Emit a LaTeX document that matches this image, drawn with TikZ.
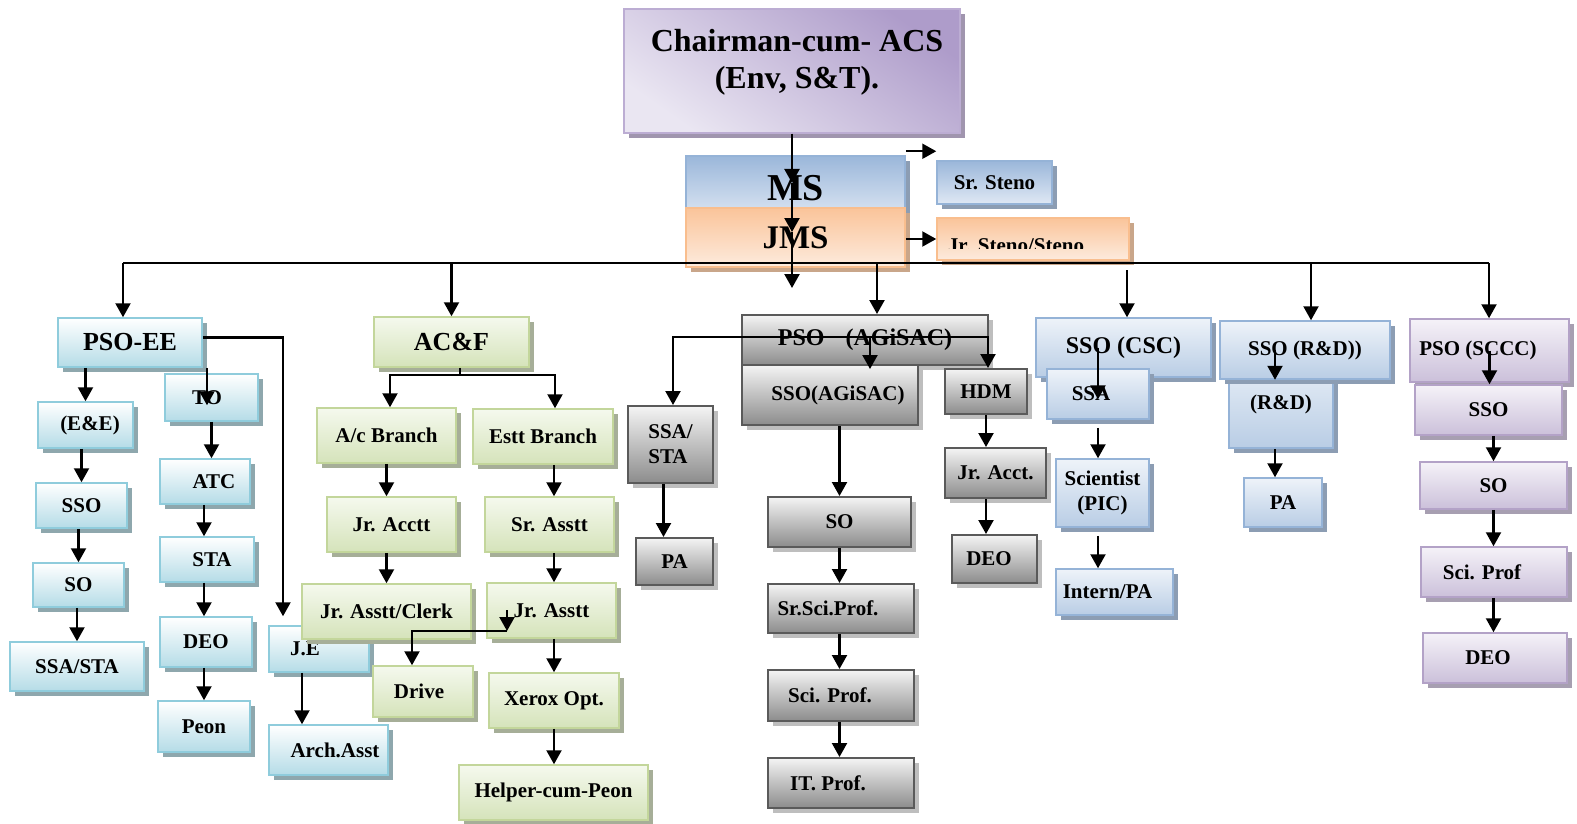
\documentclass[tikz,border=0pt]{standalone}
\usepackage{fontspec}
\setmainfont{Liberation Serif}
\usetikzlibrary{arrows.meta,shadows}

\definecolor{cyanE}{HTML}{8FCCDC}
\definecolor{cyanB}{HTML}{B5DCE7}
\definecolor{cyanS}{HTML}{8EA7AD}
\definecolor{grnE}{HTML}{C3D69B}
\definecolor{grnT}{HTML}{F5F9EE}
\definecolor{grnB}{HTML}{D5E3BA}
\definecolor{grnS}{HTML}{A6AE98}
\definecolor{gryE}{HTML}{5A5A5A}
\definecolor{gryT}{HTML}{F4F4F4}
\definecolor{gryB}{HTML}{8C8C8C}
\definecolor{gryS}{HTML}{BEBEBE}
\definecolor{bluE}{HTML}{95B3D7}
\definecolor{bluT}{HTML}{EEF3F9}
\definecolor{bluB}{HTML}{B9CDE5}
\definecolor{bluS}{HTML}{8C9DB3}
\definecolor{purE}{HTML}{B3A2C7}
\definecolor{purT}{HTML}{F5F2F8}
\definecolor{purB}{HTML}{CBC0DA}
\definecolor{purS}{HTML}{A79FB1}
\definecolor{chE}{HTML}{BCADD3}
\definecolor{chD}{HTML}{AE9CCA}
\definecolor{chL}{HTML}{EAE6F2}
\definecolor{chS}{HTML}{A095AE}
\definecolor{orE}{HTML}{F9BE8E}
\definecolor{orT}{HTML}{FAC49A}
\definecolor{orB}{HTML}{FDEBDD}
\definecolor{orS}{HTML}{C9A68A}
\definecolor{msT}{HTML}{9BB7DA}
\definecolor{msB}{HTML}{DFE8F4}

\newcommand{\fsz}[2]{\bfseries\fontsize{#1}{#2}\selectfont}

\tikzset{
wh/.style 2 args={minimum width=#1pt,minimum height=#2pt},
shd/.style={drop shadow={shadow xshift=5pt,shadow yshift=-5pt,opacity=1,fill=#1}},
}

\begin{document}
\begin{tikzpicture}
[x=1pt,y=-1pt,
%%%%%%%%%%%%%%%%%%%%%%%%%%%%%%
bx/.style={rectangle,line width=1.5pt,inner sep=0pt,font=\fsz{21}{25}},
tx/.style={font=\fsz{21}{25}},
cy/.style={bx,shd=cyanS,draw=cyanE,top color=white,bottom color=cyanB},
gr/.style={bx,shd=grnS,draw=grnE,top color=grnT,bottom color=grnB},
gy/.style={bx,shd=gryS,draw=gryE,line width=2pt,top color=gryT,bottom color=gryB},
bl/.style={bx,shd=bluS,draw=bluE,top color=bluT,bottom color=bluB},
pu/.style={bx,shd=purS,draw=purE,top color=purT,bottom color=purB},
chbox/.style={bx,shd=chS,draw=chE,top color=chD,bottom color=chL,shading angle=-35},
msbox/.style={bx,shd=bluS,draw=bluE,top color=msT,bottom color=msB},
orbox/.style={bx,shd=orS,draw=orE,top color=orT,bottom color=orB},
arr/.style={line width=2.2pt,-{Triangle[width=15pt,length=14pt]}},
ln/.style={line width=2.2pt},
]%%%%%%%%%%%%%%%%%%%%%%%%%%%%%%

\path[use as bounding box,fill=white] (0,0) rectangle (1577,824);

\node[chbox,wh={336}{124}] (chair) at (792,71) {};
\node[font=\fsz{32}{37},align=center] (chairtxt) at (797,62) {Chairman-cum- ACS\\(Env, S\&T).};
\node[msbox,wh={219}{64},font=\fsz{38}{40}] (ms) at (795.5,188) {MS};
\node[orbox,wh={219}{59},font=\fsz{33}{36}] (jms) at (795.5,237.5) {JMS};
\node[msbox,wh={115}{43}] (srs) at (994.5,182.5) {Sr. Steno};
\node[orbox,wh={192}{42}] (jrs) at (1033,239) {};
\begin{scope}
\clip (937,218) rectangle (1129,248);
\node[tx,anchor=base] (jrstxt) at (1016,252) {Jr. Steno/Steno};
\end{scope}

\node[cy,wh={144}{49},font=\fsz{26}{30}] (psoee) at (130,342.5) {PSO-EE};
\node[cy,wh={95}{46}] (eE) at (85.5,425) {\hspace*{9pt}(E\&E)};
\node[cy,wh={91}{45}] (sso1) at (81.5,505.5) {SSO};
\node[cy,wh={91}{44}] (so1) at (78.5,585) {SO};
\node[cy,wh={134}{49}] (ssa1) at (77,666.5) {SSA/STA};
\node[cy,wh={93}{47}] (to) at (211.5,397.5) {TO\hspace*{9pt}};
\node[cy,wh={90}{45}] (atc) at (205,481.5) {\hspace*{18pt}ATC};
\node[cy,wh={94}{45}] (sta1) at (207,559.5) {\hspace*{10pt}STA};
\node[cy,wh={92}{50}] (deo1) at (206,642) {DEO};
\node[cy,wh={92}{51}] (peon) at (204,726.5) {Peon};
\node[cy,wh={100}{46}] (je) at (319,649) {J.E\hspace*{28pt}};
\node[cy,wh={119}{50}] (arch) at (328.5,750) {\hspace*{13pt}Arch.Asst};

\node[gr,wh={155}{50},font=\fsz{26}{30}] (acf) at (451.5,342) {AC\&F};
\node[gr,wh={139}{55}] (acb) at (386.5,435.5) {A/c Branch};
\node[gr,wh={140}{55}] (estt) at (543,436.5) {Estt Branch};
\node[gr,wh={129}{55}] (jracctt) at (391.5,524.5) {Jr. Acctt};
\node[gr,wh={129}{55}] (srasstt) at (549.5,524.5) {Sr. Asstt};
\node[gr,wh={169}{55}] (jrclerk) at (386.5,611.5) {Jr. Asstt/Clerk};
\node[gr,wh={129}{55}] (jrasstt) at (551.5,610.5) {Jr. Asstt};
\node[gr,wh={100}{51}] (drive) at (423,691.5) {Drive\hspace*{8pt}};
\node[gr,wh={130}{55}] (xerox) at (554,700.5) {Xerox Opt.};
\node[gr,wh={189}{55}] (helper) at (553.5,792.5) {Helper-cum-Peon};

\node[gy,wh={246}{50},font=\fsz{24}{28}] (psoag) at (865,340) {PSO\hspace*{15pt} (AGiSAC)};
\node[gy,wh={176}{60}] (ssoag) at (830,395) {\hspace*{16pt}SSO(AGiSAC)};
\node[gy,wh={82}{45}] (hdm) at (986,391.5) {HDM};
\node[gy,wh={101}{50}] (jracct) at (995.5,473) {Jr. Acct.};
\node[gy,wh={85}{48}] (deo2) at (994.5,559) {DEO\hspace*{11pt}};
\node[gy,wh={85}{77},align=left] (ssa2) at (670.5,444.5) {SSA/\\STA};
\node[gy,wh={77}{47}] (pa2) at (674.5,561.5) {PA};
\node[gy,wh={143}{50}] (so2) at (839.5,522) {SO};
\node[gy,wh={146}{49}] (srsci) at (841,608.5) {Sr.Sci.Prof.\hspace*{26pt}};
\node[gy,wh={146}{51}] (sci) at (841,695.5) {Sci. Prof.\hspace*{22pt}};
\node[gy,wh={146}{50}] (itp) at (841,783) {IT. Prof.\hspace*{26pt}};

\node[bl,wh={175}{59},font=\fsz{24}{28}] (csc) at (1123.5,347.5) {SSO (CSC)};
\node[bl,wh={102}{50}] (ssa3) at (1098,394) {SSA\hspace*{14pt}};
\node[bl,wh={93}{68},align=center] (scient) at (1102.5,493) {Scientist\\(PIC)};
\node[bl,wh={117}{46}] (intern) at (1114.5,592) {Intern/PA\hspace*{14pt}};
\node[bl,wh={104}{98}] (starD) at (1281,399) {};
\node[tx,align=center] (starDtxt) at (1281,391) {STA\\[3pt](R\&D)};
\node[bl,wh={170}{58}] (rd) at (1305,350) {SSO (R\&D))};
\node[bl,wh={78}{49}] (pa3) at (1283,502.5) {PA};

\node[pu,wh={159}{63}] (sccc) at (1489.5,350.5) {PSO (SCCC)\hspace*{23pt}};
\node[pu,wh={147}{50}] (sso4) at (1488.5,410) {SSO};
\node[pu,wh={147}{47}] (so4) at (1493.5,485.5) {SO};
\node[pu,wh={146}{50}] (sci4) at (1494,572) {Sci. Prof\hspace*{24pt}};
\node[pu,wh={144}{50}] (deo4) at (1495,658) {DEO\hspace*{14pt}};

\coordinate (msarr) at (792,183);
\coordinate (jmsarr) at (792,232);
\coordinate (hub) at (792,288);
\coordinate (busL) at (123,263);
\coordinate (busR) at (1489,263);
\coordinate (dAG) at (877,263);
\coordinate (dCSC) at (1127,270);
\coordinate (dRD) at (1311,263);
\coordinate (acfj) at (460,375);
\coordinate (dvA) at (507,610);
\coordinate (dvB) at (507,631);
\coordinate (agj) at (870,337);

\draw[arr] (chair.south) -- (msarr);
\draw[arr] (msarr) -- (jmsarr);
\draw[arr] (jmsarr) -- (hub);
\draw[arr] ([yshift=4pt]ms.north east) -- ([yshift=4pt]ms.north east -| srs.west);
\draw[arr] (jms.east |- jrs.west) -- (jrs.west);

\draw[ln] (busL) -- (busR);
\draw[arr] (busL) -- (busL |- psoee.north);
\draw[arr] (acf.north |- busL) -- (acf.north);
\draw[arr] (dAG) -- (dAG |- psoag.north);
\draw[arr] (dCSC) -- (dCSC |- csc.north);
\draw[arr] (dRD) -- (dRD |- rd.north);
\draw[arr] (busR) -- (busR |- sccc.north);

\draw[arr] (psoee.south -| eE.north) -- (eE.north);
\foreach \a/\b in {eE/sso1,sso1/so1,so1/ssa1}
\draw[arr] (\a.south -| \b.north) -- (\b.north);
\draw[arr] ([xshift=-4.5pt]to.north |- psoee.south) -- ([xshift=-4.5pt,yshift=-32pt]to.north);
\draw[arr] (to.south -| to.north) -- (atc.north -| to.north);
\foreach \a/\b in {atc/sta1,sta1/deo1,deo1/peon}
\draw[arr] (\a.south -| peon) -- (\b.north -| peon);
\draw[arr] ([yshift=5pt]psoee.east) -| ([xshift=-36pt,yshift=9pt]je.north);
\draw[arr] ([xshift=-17pt]je.south) -- ([xshift=-17pt]je.south |- arch.north);

\draw[ln] (acf.south -| acfj) -- (acfj);
\draw[arr] (acfj) -| ([xshift=3.5pt]acb.north);
\draw[arr] (acfj) -| ([xshift=12pt]estt.north);
\foreach \a/\b in {acb/jracctt,jracctt/jrclerk}
\draw[arr] (\a.south -| jrclerk) -- (\b.north -| jrclerk);
\foreach \a/\b in {estt/srasstt,srasstt/jrasstt,jrasstt/xerox,xerox/helper}
\draw[arr] (\a.south -| xerox) -- (\b.north -| xerox);
\draw[arr] (dvA) -- (dvB);
\draw[arr] (dvB) -| ([xshift=-11pt]drive.north);

\draw[arr] (agj) -| ([xshift=2.5pt]ssa2.north);
\draw[arr] (agj) -| ([xshift=2pt]hdm.north);
\draw[arr] (agj) -- ([yshift=-5pt]ssoag.north -| agj);
\draw[arr] ([xshift=-7pt]ssa2.south) -- ([xshift=-7pt]ssa2.south |- pa2.north);
\foreach \a/\b in {ssoag/so2,so2/srsci,srsci/sci,sci/itp}
\draw[arr] (\a.south -| so2) -- (\b.north -| so2);
\foreach \a/\b in {hdm/jracct,jracct/deo2}
\draw[arr] (\a.south -| hdm) -- (\b.north -| hdm);

\draw[arr] (csc.center -| ssa3) -- ([yshift=-31pt]ssa3.north);
\foreach \a/\b in {ssa3/scient,scient/intern}
\draw[arr] ([yshift=-8pt]\a.south -| ssa3) -- (\b.north -| ssa3);
\draw[arr] ([xshift=-30pt]rd.center) -- ([xshift=-30pt]rd.center |- rd.south);
\draw[arr] ([xshift=-6pt]starD.south) -- ([xshift=-6pt]starD.south |- pa3.north);

\draw[arr] (sccc.center) -- (sccc.center |- sso4.north);
\foreach \a/\b in {sso4/so4,so4/sci4,sci4/deo4}
\draw[arr] (\a.south -| so4) -- (\b.north -| so4);
\end{tikzpicture}
\end{document}
